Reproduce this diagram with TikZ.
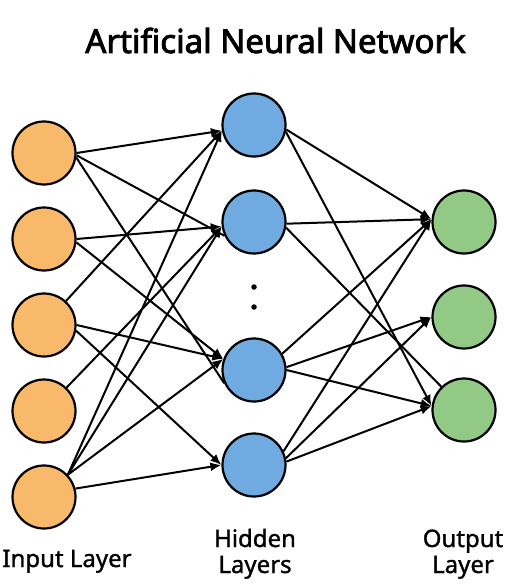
\documentclass[tikz,border=0pt]{standalone}
\usepackage{fontspec}
\setmainfont{Noto Sans}[FakeBold=1.2]
\newfontfamily\titlefont{Noto Sans}[FakeBold=2.6]
\usetikzlibrary{arrows.meta}
\definecolor{inorange}{RGB}{249,185,106}
\definecolor{hidblue}{RGB}{111,170,224}
\definecolor{outgreen}{RGB}{146,201,132}
\begin{document}
\begin{tikzpicture}[x=1pt,y=-1pt,
  neuron/.style={circle,draw=black,line width=2.2pt,minimum size=63pt,inner sep=0pt},
  edge/.style={line width=2pt,draw=black},
  arr/.style={edge,-{Latex[length=11pt,width=9pt]}},
  lbl/.style={font=\fontsize{24}{26}\selectfont,anchor=base,inner sep=0pt},
  dotnode/.style={circle,fill=black,minimum size=5.5pt,inner sep=0pt}
]
\useasboundingbox (0,0) rectangle (510,588);
\fill[white] (0,0) rectangle (510,588);

\node[anchor=base,inner sep=0pt,font=\titlefont\fontsize{33}{40}\selectfont] (title) at (275.5,53) {Artificial Neural Network};

\node[neuron,fill=inorange] (i1) at (44,153) {};
\node[neuron,fill=inorange] (i2) at (44,239) {};
\node[neuron,fill=inorange] (i3) at (44,325) {};
\node[neuron,fill=inorange] (i4) at (44,411) {};
\node[neuron,fill=inorange] (i5) at (44,497) {};

\node[neuron,fill=hidblue] (h1) at (254,125) {};
\node[neuron,fill=hidblue] (h2) at (254,222) {};
\node[neuron,fill=hidblue] (h3) at (254,370) {};
\node[neuron,fill=hidblue] (h4) at (254,465) {};

\node[neuron,fill=outgreen] (o1) at (464,222) {};
\node[neuron,fill=outgreen] (o2) at (464,317) {};
\node[neuron,fill=outgreen] (o3) at (464,410) {};

\node[dotnode] (d1) at (254,287) {};
\node[dotnode] (d2) at (254,307) {};

% input -> hidden
\draw[arr] (i1.0) -- (h1.190);
\draw[edge] (i1.-4) -- (h2.205);
\draw[edge] (i1.-8) -- (h3.204);
\draw[arr] (i2.0) -- (h2.188);
\draw[arr] (i2.-6) -- (h3.160);
\draw[arr] (i3) -- (h1.190);
\draw[arr] (i3.0) -- (h3.160);
\draw[arr] (i3.-10) -- (h4.180);
\draw[arr] (i4) -- (h2.188);
\draw[arr] (i5.43) -- (h1.190);
\draw[arr] (i5.43) -- (h2.188);
\draw[arr] (i5.43) -- (h3.160);
\draw[arr] (i5.15) -- (h4.180);

% hidden -> output
\draw[arr] (h1.-8) -- (o1.175);
\draw[arr] (h1.-12) -- (o3.173);
\draw[arr] (h2.-3) -- (o1.175);
\draw[edge] (h2.-10) -- (o3);
\draw[arr] (h3.30) -- (o1.175);
\draw[arr] (h3.5) -- (o2.180);
\draw[arr] (h3.0) -- (o3.173);
\draw[arr] (h4.25) -- (o1.175);
\draw[arr] (h4.12) -- (o2.180);
\draw[arr] (h4.6) -- (o3.173);

% labels
\node[lbl] (inlbl) at (67,567) {Input Layer};
\node[lbl] (hidlbl1) at (255,547) {Hidden};
\node[lbl] (hidlbl2) at (255,573) {Layers};
\node[lbl] (outlbl1) at (463,547) {Output};
\node[lbl] (outlbl2) at (463,573) {Layer};
\end{tikzpicture}
\end{document}
